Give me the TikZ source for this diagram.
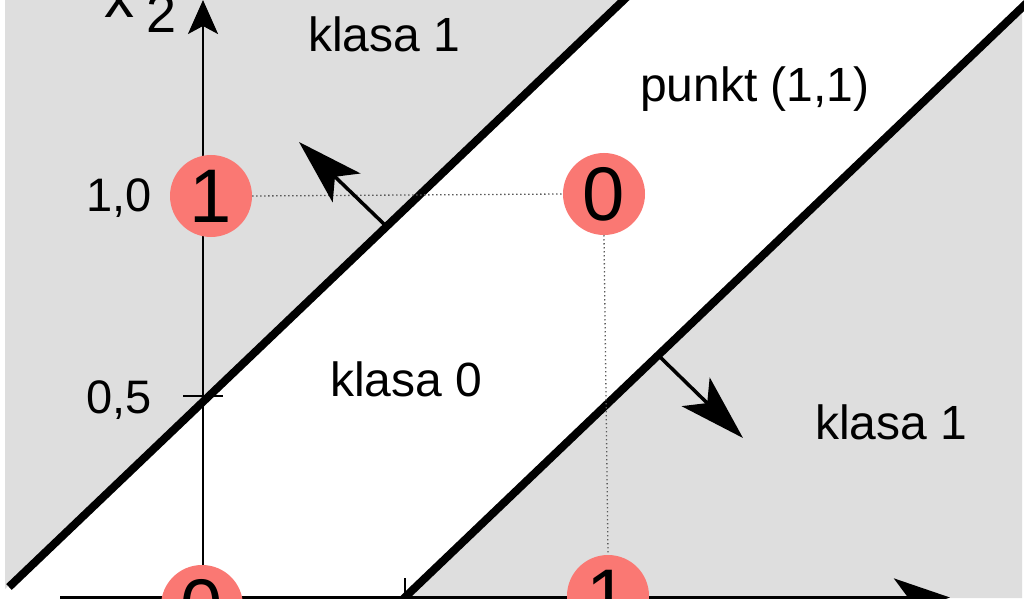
\documentclass[tikz,border=0pt]{standalone}
\usepackage{fontspec}
\setmainfont{Liberation Sans}
\usetikzlibrary{arrows.meta}
\definecolor{regiongray}{RGB}{222,222,222}
\definecolor{pointred}{RGB}{250,120,115}
\definecolor{dotgray}{RGB}{90,90,90}
\begin{document}
\begin{tikzpicture}[x=1pt,y=1pt,
  lbl/.style={inner sep=0pt,font=\fontsize{48}{56}\selectfont},
  ticklbl/.style={inner sep=0pt,font=\fontsize{47}{56}\selectfont},
  pt/.style={circle,fill=pointred,minimum size=82pt,inner sep=0pt,font=\fontsize{76}{80}\selectfont},
  bound/.style={line width=8pt},
  normalarrow/.style={line width=3.5pt,-{Stealth[length=66pt,width=40pt,inset=16pt]}},
  dots/.style={dotgray,line width=1.3pt,dash pattern=on 1.3pt off 2.7pt}
]
\useasboundingbox (0,0) rectangle (1024,598);
\clip (0,0) rectangle (1024,598);
\fill[white] (0,0) rectangle (1024,598);
% gray class-1 regions
\fill[regiongray] (5,9) -- (628,603) -- (5,603) -- cycle;
\fill[regiongray] (404,0) -- (1022,591) -- (1022,0) -- cycle;
% named coordinates
\coordinate (ub) at (9,11);
\coordinate (ut) at (630,604);
\coordinate (lb) at (400,-4);
\coordinate (lt) at (1034,602);
\coordinate (x1s) at (60,0.5);
\coordinate (x1e) at (950,0.5);
\coordinate (x2s) at (203,-10);
\coordinate (x2e) at (203,598);
\coordinate (na1) at (385,373);
\coordinate (na2) at (299,456);
\coordinate (nb1) at (660,241);
\coordinate (nb2) at (743,160);
\coordinate (ta) at (183,202);
\coordinate (tb) at (223,202);
\coordinate (tc) at (405,0);
\coordinate (td) at (405,20);
% x2 axis
\draw[line width=2.5pt,-{Stealth[length=34pt,width=30pt,inset=8pt]}] (x2s) -- (x2e);
\draw[line width=2pt] (ta) -- (tb);
% decision boundaries
\draw[bound] (ub) -- (ut);
\draw[bound] (lb) -- (lt);
% x1 axis
\draw[line width=4pt,-{Stealth[length=56pt,width=38pt,inset=14pt]}] (x1s) -- (x1e);
\draw[line width=2pt] (tc) -- (td);
% points
\node[pt] (c01) at (211,402) {1};
\node[pt] (c11) at (604,404) {0};
\node[pt] (c00) at (202,-8) {0};
\node[pt] (c10) at (608,2) {1};
\draw[dots] (c01.east) -- (c11.west);
\draw[dots] (c11.south) -- (c10.north);
% normal arrows
\draw[normalarrow] (na1) -- (na2);
\draw[normalarrow] (nb1) -- (nb2);
% labels
\node[lbl,anchor=base west] (k1a) at (308,546) {klasa 1};
\node[lbl,anchor=base west] (pk) at (640,496) {punkt (1,1)};
\node[lbl,anchor=base west] (k0) at (330,202) {klasa 0};
\node[lbl,anchor=base west] (k1b) at (815,159) {klasa 1};
\node[ticklbl,anchor=base east] (l10) at (152,386) {1,0};
\node[ticklbl,anchor=base east] (l05) at (152,185) {0,5};
\node[inner sep=0pt,anchor=base west] (xl) at (104,580) {\fontsize{60}{60}\selectfont x};
\node[inner sep=0pt,anchor=base west] (xs) at (146,565) {\fontsize{54}{60}\selectfont 2};
\end{tikzpicture}
\end{document}
